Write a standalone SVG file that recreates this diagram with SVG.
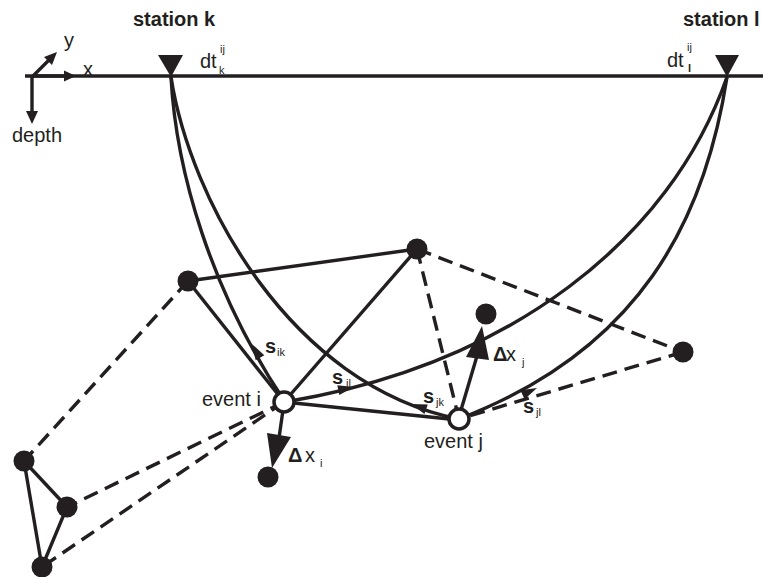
<svg xmlns="http://www.w3.org/2000/svg" width="763" height="577" viewBox="0 0 763 577">
<style>
.ln{stroke:#231f20;stroke-width:3.4;fill:none;stroke-linecap:butt}
.ds{stroke:#231f20;stroke-width:3.4;fill:none;stroke-dasharray:15 8}
.fc{fill:#231f20}
.ev{fill:#fff;stroke:#231f20;stroke-width:3.5}
.ah{fill:#231f20}
text{font-family:"Liberation Sans",Arial,sans-serif;fill:#231f20}
.lb{font-size:20px}
.bd{font-size:20px;font-weight:bold}
.sm{font-size:11px}
</style>
<rect width="763" height="577" fill="#fff"/>
<g id="surface">
<line class="ln" x1="25" y1="76" x2="763" y2="76" stroke-width="3.8"/>
</g>
<g id="axes">
<line class="ln" x1="33" y1="76" x2="66" y2="76"/>
<polygon class="ah" points="76,76 64,70.5 64,81.5"/>
<line class="ln" x1="33" y1="76" x2="50" y2="59"/>
<polygon class="ah" points="57,52 44,57 52,65"/>
<line class="ln" x1="32" y1="76" x2="32" y2="112"/>
<polygon class="ah" points="32,124 26,111 38,111"/>
<text class="lb" x="83" y="76">x</text>
<text class="lb" x="64" y="47">y</text>
<text class="lb" x="12" y="142">depth</text>
</g>
<g id="connectors">
<path class="ln" d="M171,77 C176,170 210,290 285,402"/>
<path class="ln" d="M171,77 C190,200 290,385 459,419"/>
<path class="ln" d="M727,77 C670,240 510,365 285,402"/>
<path class="ln" d="M727,77 C705,220 640,350 459,419"/>
<polygon class="ah" points="0,0 -16,-5 -16,5" transform="translate(252,344) rotate(-120)"/>
<polygon class="ah" points="0,0 -16,-5 -16,5" transform="translate(354,387) rotate(-11)"/>
<polygon class="ah" points="0,0 -16,-5 -16,5" transform="translate(411,404) rotate(-161)"/>
<polygon class="ah" points="0,0 -16,-5 -16,5" transform="translate(537,388) rotate(-25)"/>
<line class="ln" x1="188" y1="281" x2="417" y2="249"/>
<line class="ln" x1="188" y1="281" x2="284" y2="402"/>
<line class="ln" x1="284" y1="402" x2="417" y2="249"/>
<line class="ln" x1="284" y1="402" x2="459" y2="420"/>
<line class="ln" x1="24" y1="461" x2="67" y2="507"/>
<line class="ln" x1="24" y1="461" x2="42" y2="567"/>
<line class="ln" x1="67" y1="507" x2="42" y2="567"/>
<line class="ds" x1="188" y1="281" x2="24" y2="461"/>
<line class="ds" x1="417" y1="249" x2="459" y2="419"/>
<line class="ds" x1="417" y1="249" x2="683" y2="352"/>
<line class="ds" x1="683" y1="352" x2="459" y2="419"/>
<line class="ds" x1="284" y1="402" x2="67" y2="507"/>
<line class="ds" x1="284" y1="402" x2="42" y2="567"/>
<line class="ln" x1="283" y1="410" x2="279" y2="438"/>
<polygon class="ah" points="267,433 291,437 272,468"/>
<line class="ln" x1="461" y1="410" x2="477" y2="356"/>
<polygon class="ah" points="482,326 466,357 489,360"/>
</g>
<g id="station-k">
<polygon class="ah" points="158,55 183,55 171,77"/>
<text class="bd" x="133" y="26">station k</text>
<text class="lb" x="200" y="68">dt</text>
<text class="sm" x="220" y="53">ij</text>
<text class="sm" x="219" y="74">k</text>
</g>
<g id="station-l">
<polygon class="ah" points="715,55 739,55 727,77"/>
<text class="bd" x="683" y="26">station l</text>
<text class="lb" x="667" y="67">dt</text>
<text class="sm" x="687" y="51">ij</text>
<text class="sm" x="688" y="72" font-weight="bold" font-size="12px">l</text>
</g>
<g id="n1"><circle class="fc" cx="188" cy="281" r="10.5"/></g>
<g id="n2"><circle class="fc" cx="417" cy="249" r="10.5"/></g>
<g id="n3"><circle class="fc" cx="486" cy="314" r="10.5"/></g>
<g id="n4"><circle class="fc" cx="683" cy="352" r="10.5"/></g>
<g id="n5"><circle class="fc" cx="268" cy="477" r="10.5"/></g>
<g id="n6"><circle class="fc" cx="24" cy="461" r="10.5"/></g>
<g id="n7"><circle class="fc" cx="67" cy="507" r="10.5"/></g>
<g id="n8"><circle class="fc" cx="42" cy="567" r="10.5"/></g>
<g id="event-i">
<circle class="ev" cx="284" cy="402" r="10"/>
<text class="lb" x="202" y="406">event i</text>
</g>
<g id="event-j">
<circle class="ev" cx="459" cy="419" r="10"/>
<text class="lb" x="424" y="448">event j</text>
</g>
<g id="labels">
<text class="bd" x="265" y="353">s</text><text class="sm" x="277" y="356">ik</text>
<text class="bd" x="332" y="384">s</text><text class="sm" x="346" y="387">il</text>
<text class="bd" x="423" y="403">s</text><text class="sm" x="436" y="406">jk</text>
<text class="bd" x="523" y="413">s</text><text class="sm" x="536" y="416">jl</text>
<text class="lb" x="288" y="462" font-weight="bold">Δ</text><text class="lb" x="305" y="462">x</text><text class="sm" x="320" y="467">i</text>
<text class="lb" x="493" y="361" font-weight="bold">Δ</text><text class="lb" x="506" y="361">x</text><text class="sm" x="522" y="366">j</text>
</g>
</svg>
